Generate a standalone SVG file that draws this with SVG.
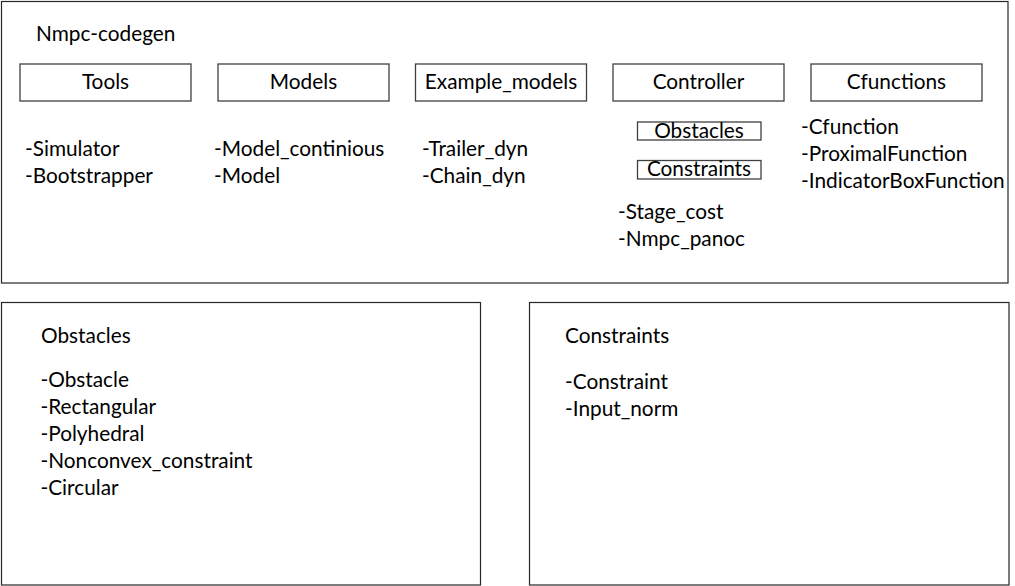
<svg xmlns="http://www.w3.org/2000/svg" width="1015" height="586" viewBox="0 0 1015 586">
<style>
text{font-family:Lato,"Liberation Sans",sans-serif;font-size:20.8px;fill:#000}
.c{text-anchor:middle}
.outer{fill:#fff;stroke:#262626;stroke-width:1.2}
.box{fill:#fff;stroke:#404040;stroke-width:1.3}
</style>
<rect width="1015" height="586" fill="#fff"/>
<g id="nmpc-codegen">
<rect class="outer" x="1.5" y="1.5" width="1006.5" height="281.5"/>
<text x="36" y="41">Nmpc-codegen</text>
</g>
<g id="tools">
<rect class="box" x="20" y="64" width="171" height="37"/>
<text class="c" x="105.5" y="89">Tools</text>
<text x="25" y="156">-Simulator</text>
<text x="25" y="183">-Bootstrapper</text>
</g>
<g id="models">
<rect class="box" x="218" y="64" width="171" height="37"/>
<text class="c" x="303.5" y="89">Models</text>
<text x="214" y="156">-Model_continious</text>
<text x="214" y="183">-Model</text>
</g>
<g id="example_models">
<rect class="box" x="415.5" y="64" width="171" height="37"/>
<text class="c" x="501" y="89">Example_models</text>
<text x="422" y="156">-Trailer_dyn</text>
<text x="422" y="183">-Chain_dyn</text>
</g>
<g id="controller">
<rect class="box" x="613" y="64" width="171" height="37"/>
<text class="c" x="698.5" y="89">Controller</text>
<text x="618" y="219">-Stage_cost</text>
<text x="618" y="246">-Nmpc_panoc</text>
</g>
<g id="controller-obstacles">
<rect class="box" x="637.5" y="122" width="123.5" height="18"/>
<text class="c" x="699" y="137.5">Obstacles</text>
</g>
<g id="controller-constraints">
<rect class="box" x="637.5" y="160.5" width="123.5" height="18.5"/>
<text class="c" x="699" y="175.5">Constraints</text>
</g>
<g id="cfunctions">
<rect class="box" x="811" y="64" width="171" height="37"/>
<text class="c" x="896.5" y="89">Cfunctions</text>
<text x="801" y="134">-Cfunction</text>
<text x="801" y="161">-ProximalFunction</text>
<text x="801" y="188">-IndicatorBoxFunction</text>
</g>
<g id="obstacles">
<rect class="outer" x="1.5" y="302.5" width="479" height="282.5"/>
<text x="41" y="343">Obstacles</text>
<text x="40.5" y="387">-Obstacle</text>
<text x="40.5" y="414">-Rectangular</text>
<text x="40.5" y="441">-Polyhedral</text>
<text x="40.5" y="468">-Nonconvex_constraint</text>
<text x="40.5" y="495">-Circular</text>
</g>
<g id="constraints">
<rect class="outer" x="529.5" y="302.5" width="479.5" height="282.5"/>
<text x="565" y="343">Constraints</text>
<text x="565" y="389">-Constraint</text>
<text x="565" y="416">-Input_norm</text>
</g>
<g id="connectors"/>
</svg>
